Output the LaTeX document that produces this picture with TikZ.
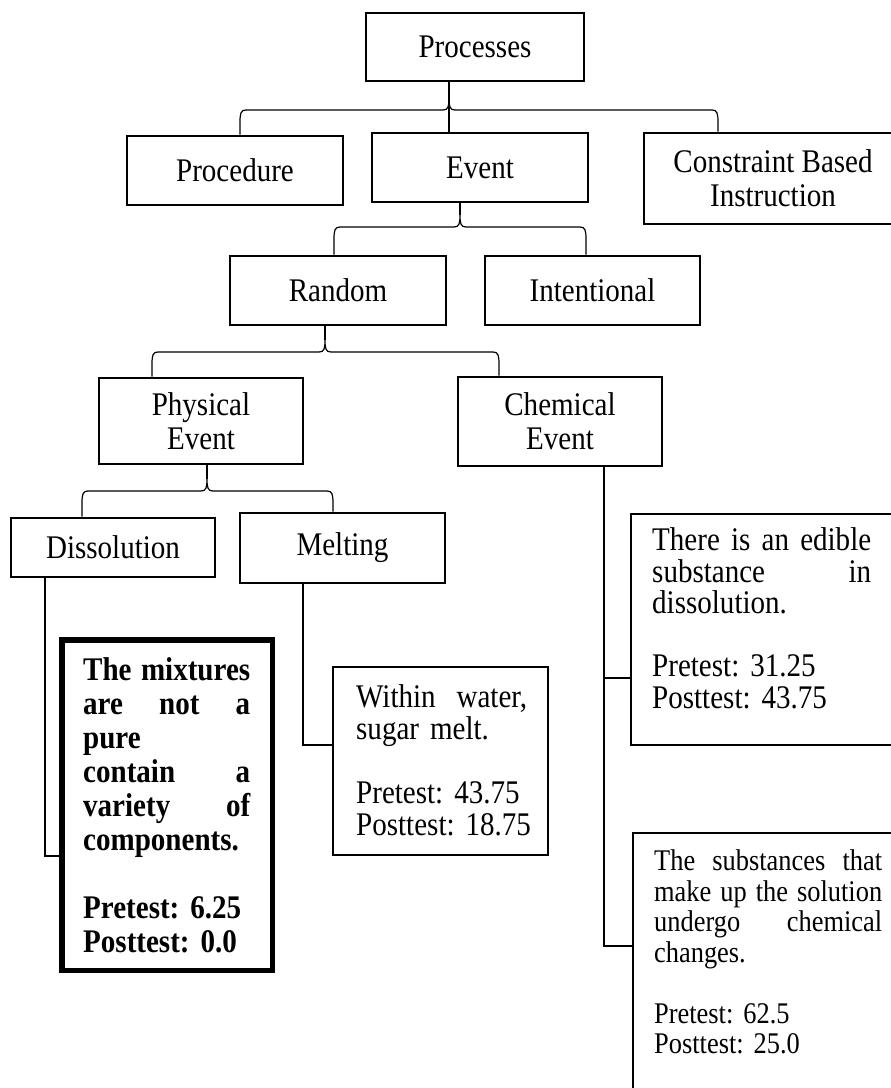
\documentclass[tikz,border=0pt]{standalone}
\usepackage{fontspec}
\setmainfont{Liberation Serif}[FakeStretch=0.88]
% a line of text spread to a given width (in pt); words are separated by \hfill
\newcommand\jline[2]{\leavevmode\hbox to #1pt{#2}}
% curly connector from a parent to two children:
% #1 parent, #2 left child, #3 left x, #4 cusp x, #5 right child, #6 right x, #7 bar y
\newcommand\treebrace[7]{%
  \draw[link] (#3,#7 |- #2.north) -- (#3,#7-12)
    .. controls (#3,#7-3) and (#3+1,#7) .. (#3+6,#7)
    -- (#4-6,#7)
    .. controls (#4-1,#7) and (#4,#7+3) .. (#4,#7+12)
    .. controls (#4,#7+3) and (#4+1,#7) .. (#4+6,#7)
    -- (#6-6,#7)
    .. controls (#6-1,#7) and (#6,#7-3) .. (#6,#7-12)
    -- (#6,#7 |- #5.north);
  \draw[link] (#4,#7+12) -- (#4,#7 |- #1.south);
}
\begin{document}
\frenchspacing
\begin{tikzpicture}[x=1pt,y=1pt]
\tikzset{
  box/.style={draw, rectangle, line width=2.6pt, inner sep=0pt, align=center,
    font=\fontsize{33}{34}\selectfont},
  frame/.style={draw, rectangle, line width=2.6pt, inner sep=0pt},
  thickframe/.style={draw, rectangle, line width=5.5pt, inner sep=0pt},
  note/.style={anchor=north west, inner sep=0pt, align=left,
    font=\fontsize{33}{31.5}\selectfont\setlength{\parindent}{0pt}},
  link/.style={line width=1.2pt},
}
\useasboundingbox (0,0) rectangle (891,-1088);
\clip (0,0) rectangle (891,-1088);

% hierarchy boxes
\node[box, minimum width=218, minimum height=68] (Processes) at (475,-47) {Processes};
\node[box, minimum width=216, minimum height=69] (Procedure) at (235,-170.5) {Procedure};
\node[box, minimum width=216, minimum height=69] (Event) at (480,-167.5) {Event};
\node[box, minimum width=258, minimum height=91] (Constraint) at (773,-178.5) {Constraint Based\\Instruction};
\node[box, minimum width=216, minimum height=69] (Random) at (338,-290.5) {Random};
\node[box, minimum width=215, minimum height=69] (Intentional) at (592.5,-290.5) {Intentional};
\node[box, minimum width=204, minimum height=86] (Physical) at (201,-421) {Physical\\Event};
\node[box, minimum width=204, minimum height=89] (Chemical) at (560,-421.5) {Chemical\\Event};
\node[box, minimum width=204, minimum height=59] (Dissolution) at (113,-547.5) {Dissolution};
\node[box, minimum width=205, minimum height=70] (Melting) at (342.5,-548) {Melting};

% result boxes
\node[thickframe, minimum width=210.5, minimum height=330.5] (BoldBox) at (167,-805) {};
\node[note, text width=180, font=\fontsize{33}{34}\selectfont\bfseries\setlength{\parindent}{0pt}] (BoldText) at (83,-657.5)
  {\jline{167}{The\hfill mixtures}\\ \jline{167}{are\hfill not\hfill a}\\ pure\\ \jline{167}{contain\hfill a}\\
   \jline{167}{variety\hfill of}\\ components.\\[34pt]
   Pretest: 6.25\\ Posttest: 0.0};

\node[frame, minimum width=215, minimum height=188] (MeltBox) at (440.5,-761) {};
\node[note, text width=185, font=\fontsize{33}{32}\selectfont\setlength{\parindent}{0pt}] (MeltText) at (356,-684.5)
  {\jline{171}{Within\hfill water,}\\ sugar melt.\\[32pt] Pretest: 43.75\\ Posttest: 18.75};

\node[frame, minimum width=274, minimum height=231] (EdibleBox) at (768,-629.5) {};
\node[note, text width=225] (EdibleText) at (652,-527.5)
  {\jline{219}{There\hfill is\hfill an\hfill edible}\\ \jline{219}{substance\hfill in}\\ dissolution.\\[31.5pt]
   Pretest: 31.25\\ Posttest: 43.75};

\node[frame, minimum width=272, minimum height=277] (SubstBox) at (769,-971.5) {};
\node[note, text width=235, font=\fontsize{30}{30.5}\selectfont\setlength{\parindent}{0pt}] (SubstText) at (654,-849.5)
  {\jline{228}{The\hfill substances\hfill that}\\ \jline{228}{make\hfill up\hfill the\hfill solution}\\
   \jline{228}{undergo\hfill chemical}\\ changes.\\[30.5pt]
   Pretest: 62.5\\ Posttest: 25.0};

% curly connectors
\treebrace{Processes}{Procedure}{240}{449}{Constraint}{718}{-110}
\draw[link] (449,0 |- Processes.south) -- (449,0 |- Event.north);
\treebrace{Event}{Random}{334}{460}{Intentional}{586}{-227}
\treebrace{Random}{Physical}{152}{325}{Chemical}{499}{-352}
\treebrace{Physical}{Dissolution}{82}{207}{Melting}{333}{-491}

% elbow connectors to the result boxes
\draw[link] (45,0 |- Dissolution.south) |- (BoldBox.west |- 0,-856);
\draw[link] (303,0 |- Melting.south) |- (MeltBox.west |- 0,-745);
\draw[link] (604,0 |- Chemical.south) |- (EdibleBox.west |- 0,-678);
\draw[link] (604,0 |- Chemical.south) |- (SubstBox.west |- 0,-946);
\end{tikzpicture}
\end{document}
